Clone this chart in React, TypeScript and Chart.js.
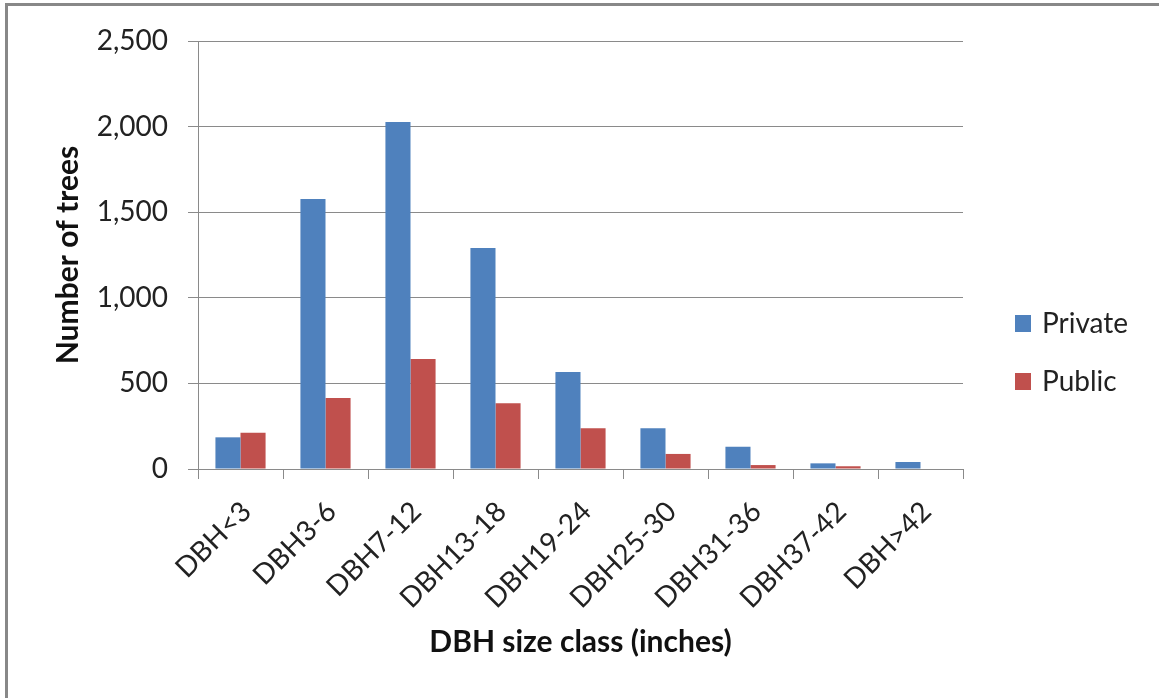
import React, { useEffect, useRef } from "react";
import { Chart, registerables } from "chart.js";

Chart.register(...registerables);

const categories = ["DBH<3", "DBH3-6", "DBH7-12", "DBH13-18", "DBH19-24", "DBH25-30", "DBH31-36", "DBH37-42", "DBH>42"];
const privateValues = [185, 1577, 2027, 1291, 567, 238, 130, 33, 41];
const publicValues = [212, 415, 643, 384, 238, 88, 23, 16, 0];
const seriesNames = ["Private", "Public"];
const seriesColors = ["#4F81BD", "#C0504D"];
const yTicks = [0, 500, 1000, 1500, 2000, 2500];

const FONT = "Lato, 'Open Sans', sans-serif";
const GRID = "#8a8a8a";

const legendPlugin = {
  id: "sideLegend",
  afterDraw(chart: any) {
    const ctx = chart.ctx;
    ctx.save();
    ctx.font = `28px ${FONT}`;
    ctx.textBaseline = "middle";
    ctx.textAlign = "left";
    chart.data.datasets.forEach((ds: any, i: number) => {
      const cy = 323 + i * 58;
      ctx.fillStyle = ds.backgroundColor;
      ctx.fillRect(1015, cy - 8, 16, 17);
      ctx.fillStyle = "#222";
      ctx.fillText(ds.label, 1042, cy + 1);
    });
    ctx.restore();
  },
};

export default function App() {
  const ref = useRef<HTMLCanvasElement | null>(null);
  useEffect(() => {
    if (!ref.current) return;
    const chart = new Chart(ref.current, {
      type: "bar",
      data: {
        labels: categories,
        datasets: [
          { label: seriesNames[0], data: privateValues, backgroundColor: seriesColors[0], categoryPercentage: 0.59, barPercentage: 1 },
          { label: seriesNames[1], data: publicValues, backgroundColor: seriesColors[1], categoryPercentage: 0.59, barPercentage: 1 },
        ],
      },
      options: {
        animation: false,
        responsive: false,
        maintainAspectRatio: false,
        layout: { padding: { left: 0, top: 41, right: 196, bottom: 0 } },
        plugins: { legend: { display: false }, tooltip: { enabled: false } },
        scales: {
          x: {
            grid: { drawOnChartArea: false, color: GRID, tickLength: 10, offset: true },
            border: { color: GRID, width: 1 },
            ticks: {
              autoSkip: false,
              minRotation: 45,
              maxRotation: 45,
              labelOffset: 6,
              padding: 16,
              color: "#222",
              font: { family: FONT, size: 28 },
            },
            title: {
              display: true,
              text: "DBH size class (inches)",
              color: "#111",
              font: { family: FONT, size: 30, weight: "bold" },
              padding: { top: 0, bottom: 38 },
            },
            afterFit: (scale: any) => { scale.height = 229; },
          },
          y: {
            min: 0,
            max: 2500,
            afterBuildTicks: (scale: any) => { scale.ticks = yTicks.map((v) => ({ value: v })); },
            grid: { color: GRID, tickLength: 10 },
            border: { color: GRID, width: 1 },
            ticks: {
              padding: 20,
              color: "#222",
              font: { family: FONT, size: 28 },
              callback: (v: any) => Number(v).toLocaleString("en-US"),
            },
            title: {
              display: true,
              text: "Number of trees",
              color: "#111",
              font: { family: FONT, size: 30, weight: "bold" },
              padding: { top: 50, bottom: 0 },
            },
            afterFit: (scale: any) => { scale.width = 198; },
          },
        },
      },
      plugins: [legendPlugin],
    });
    return () => chart.destroy();
  }, []);

  return (
    <div style={{ position: "fixed", left: 0, top: 0, width: 1159, height: 698, background: "#fff", overflow: "hidden" }}>
      <canvas ref={ref} width={1159} height={698} style={{ position: "absolute", left: 0, top: 0, width: 1159, height: 698 }} />
      <div style={{ position: "absolute", left: 5, top: 3, width: 1160, height: 700, borderLeft: "3px solid #888", borderTop: "3px solid #888", pointerEvents: "none" }} />
    </div>
  );
}
